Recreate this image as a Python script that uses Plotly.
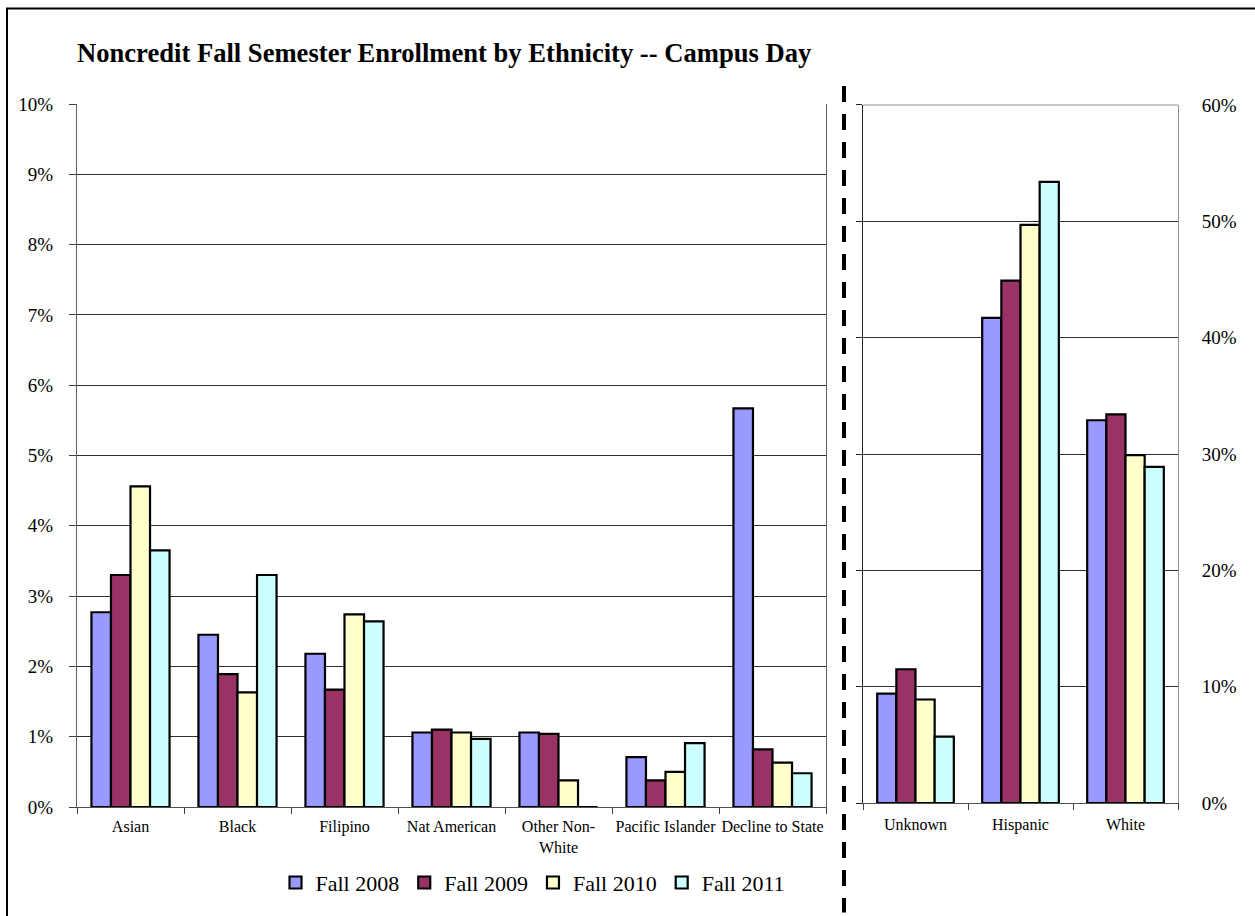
import plotly.graph_objects as go

# ---------------- data ----------------
years = ["Fall 2008", "Fall 2009", "Fall 2010", "Fall 2011"]
colors = ["#9999FF", "#993366", "#FFFFCC", "#CCFFFF"]

left_categories = ["Asian", "Black", "Filipino", "Nat American",
                   "Other Non-<br>White", "Pacific Islander", "Decline to State"]
right_categories = ["Unknown", "Hispanic", "White"]

# percent values (left panel, 0-10% scale)
left_2008 = [2.77, 2.45, 2.18, 1.06, 1.06, 0.71, 5.67]
left_2009 = [3.30, 1.89, 1.67, 1.10, 1.04, 0.38, 0.82]
left_2010 = [4.56, 1.63, 2.74, 1.06, 0.38, 0.50, 0.63]
left_2011 = [3.65, 3.30, 2.64, 0.97, 0.00, 0.91, 0.48]

# percent values (right panel, 0-60% scale)
right_2008 = [9.4, 41.7, 32.9]
right_2009 = [11.5, 44.9, 33.4]
right_2010 = [8.9, 49.7, 29.9]
right_2011 = [5.7, 53.4, 28.9]

left_values = [left_2008, left_2009, left_2010, left_2011]
right_values = [right_2008, right_2009, right_2010, right_2011]

title_text = "Noncredit Fall Semester Enrollment by Ethnicity -- Campus Day"

# ---------------- layout helpers ----------------
W, H = 1255, 916
ML, MR, MT, MB = 77, 77, 104, 106
PW, PH = W - ML - MR, H - MT - MB


def px(x):
    return (x - ML) / PW


def py(y):
    return (H - MB - y) / PH


FONT = "Liberation Serif"

fig = go.Figure()
for i, yr in enumerate(years):
    fig.add_trace(go.Bar(
        x=left_categories, y=left_values[i], name=yr,
        marker=dict(color=colors[i], line=dict(color="black", width=2.2)),
        legendgroup=yr, showlegend=True, xaxis="x", yaxis="y",
    ))
    fig.add_trace(go.Bar(
        x=right_categories, y=right_values[i], name=yr,
        marker=dict(color=colors[i], line=dict(color="black", width=2.2)),
        legendgroup=yr, showlegend=False, xaxis="x2", yaxis="y2",
    ))

# invisible helper trace so that the right-side label axis is rendered
fig.add_trace(go.Scatter(
    x=[right_categories[0]], y=[0], xaxis="x2", yaxis="y3",
    mode="markers", marker=dict(opacity=0, size=1),
    showlegend=False, hoverinfo="skip",
))

grid = "#303030"
fig.update_layout(
    width=W, height=H,
    margin=dict(l=ML, r=MR, t=MT, b=MB),
    paper_bgcolor="white", plot_bgcolor="white",
    barmode="group", bargap=0.27, bargroupgap=0,
    font=dict(family=FONT, color="black"),
    title=dict(text=title_text, x=77 / W, xref="container", xanchor="left",
               y=1 - 53 / H, yref="container", yanchor="middle",
               font=dict(family=FONT, size=26.6, weight="bold", color="black")),
    xaxis=dict(domain=[0, px(826)], anchor="y", type="category",
               tickson="boundaries", ticks="outside", ticklen=6, tickcolor="#404040",
               showline=True, linecolor="#505050", linewidth=1, tickangle=0,
               ticklabelstandoff=5,
               tickfont=dict(size=16, family=FONT), showgrid=False),
    yaxis=dict(domain=[0, 1], anchor="x", range=[0, 10], dtick=1,
               ticksuffix="%", ticks="outside", ticklen=7, tickcolor="#404040",
               showline=True, linecolor="#606060", mirror=True, linewidth=1,
               showgrid=True, gridcolor=grid, gridwidth=1,
               tickfont=dict(size=19, family=FONT), ticklabelstandoff=12,
               zeroline=False),
    xaxis2=dict(domain=[px(863), 1], anchor="y2", type="category",
                tickson="boundaries", ticks="outside", ticklen=6, tickcolor="#404040",
                showline=True, linecolor="#505050", linewidth=1, tickangle=0,
                ticklabelstandoff=7,
                tickfont=dict(size=16, family=FONT), showgrid=False),
    yaxis2=dict(domain=[py(806), py(105)], anchor="x2", range=[0, 60], dtick=10,
                side="left", ticks="outside", ticklen=6, tickcolor="#202020",
                showticklabels=False,
                showline=True, linecolor="#202020", linewidth=1,
                showgrid=True, gridcolor=grid, gridwidth=1, zeroline=False),
    yaxis3=dict(domain=[py(806), py(105)], anchor="x2", overlaying="y2",
                range=[0, 60], dtick=10, side="right", ticksuffix="%",
                ticks="", showline=True, linecolor="#909090", linewidth=1,
                showgrid=False, zeroline=False,
                tickfont=dict(size=19, family=FONT), ticklabelstandoff=19),
    legend=dict(orientation="h", x=px(533), xanchor="center",
                y=py(886), yanchor="middle",
                font=dict(size=22, family=FONT, color="black"),
                bgcolor="rgba(0,0,0,0)", itemwidth=30, tracegroupgap=0),
    showlegend=True,
)

# top border line of right plot area (plot frame)
fig.add_shape(type="line", xref="paper", yref="paper",
              x0=px(863), x1=1, y0=py(105), y1=py(105),
              line=dict(color="#909090", width=1))

# dashed separator
fig.add_shape(type="line", xref="paper", yref="paper",
              x0=px(844), x1=px(844), y0=py(86), y1=py(916),
              line=dict(color="black", width=4, dash="16px,12px"))

# outer chart border (top and left visible)
fig.add_shape(type="rect", xref="paper", yref="paper",
              x0=px(7), x1=px(1300), y0=py(1000), y1=py(8),
              line=dict(color="black", width=2), fillcolor="rgba(0,0,0,0)")

fig.write_html("out.html",
               config={"displayModeBar": False},
               post_script="document.body.style.margin='0';document.body.style.overflow='hidden';")
